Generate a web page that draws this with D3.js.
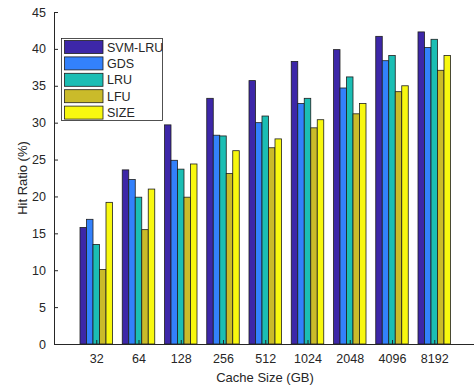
<!DOCTYPE html>
<html><head><meta charset="utf-8">
<script src="https://cdn.jsdelivr.net/npm/d3@7"></script>
<style>body{margin:0;background:#fff}svg{display:block}text{font-family:"Liberation Sans",Arial,sans-serif;fill:#262626}</style>
</head><body><svg id="c" width="474" height="390"></svg>
<script>
const categories = ["32","64","128","256","512","1024","2048","4096","8192"];
const seriesNames = ["SVM-LRU","GDS","LRU","LFU","SIZE"];
const svmLru = [15.8,23.6,29.7,33.3,35.7,38.3,39.9,41.7,42.3];
const gds    = [16.9,22.3,24.9,28.3,30.0,32.6,34.7,38.4,40.2];
const lru    = [13.5,19.9,23.7,28.2,30.9,33.3,36.2,39.1,41.3];
const lfu    = [10.1,15.5,19.9,23.1,26.6,29.3,31.2,34.2,37.1];
const size   = [19.2,21.0,24.4,26.2,27.8,30.4,32.6,35.0,39.1];
const yTicks = [0,5,10,15,20,25,30,35,40,45];
const colors = ["#3D27A8","#3381FC","#1BBEB4","#CABB2A","#F8F80F"];
const series = [svmLru,gds,lru,lfu,size];

const svg = d3.select("#c");
const x = d3.scaleLinear().domain([0,10]).range([54,476.5]);
const y = d3.scaleLinear().domain([0,45]).range([344,12]);
const groupW = 5/(5+1.5);
const barW = groupW/5;

const g = svg.append("g");
series.forEach((vals,si)=>{
  g.selectAll(null).data(vals).enter().append("rect")
    .attr("x",(d,i)=>x(i+1-groupW/2+si*barW))
    .attr("width",x(barW)-x(0))
    .attr("y",d=>y(d))
    .attr("height",d=>y(0)-y(d))
    .attr("fill",colors[si])
    .attr("stroke","#1e1e1e").attr("stroke-width",0.8);
});

// axes
const yAxis = d3.axisLeft(y).tickValues(yTicks).tickSizeInner(-4).tickSizeOuter(0).tickPadding(8);
const ya = svg.append("g").attr("transform","translate(54,0)").call(yAxis);
const xAxis = d3.axisBottom(x).tickValues(d3.range(1,10)).tickFormat((d)=>categories[d-1]).tickSizeInner(-4).tickSizeOuter(0).tickPadding(8);
const xa = svg.append("g").attr("transform","translate(0,344)").call(xAxis);
[ya,xa].forEach(a=>{
  a.selectAll("path,line").attr("stroke","#262626");
  a.selectAll("text").style("font-size","12.5px").attr("fill","#262626");
});
xa.selectAll(".tick text").attr("dy","0.9em");

svg.append("text").attr("transform","translate(27,178) rotate(-90)")
  .attr("text-anchor","middle").style("font-size","13px").text("Hit Ratio (%)");
svg.append("text").attr("x",265).attr("y",382)
  .attr("text-anchor","middle").style("font-size","13px").text("Cache Size (GB)");

// legend
const lg = svg.append("g");
lg.append("rect").attr("x",61.5).attr("y",38.5).attr("width",101).attr("height",82)
  .attr("fill","#fff").attr("stroke","#262626").attr("stroke-width",0.8);
seriesNames.forEach((n,i)=>{
  const cy = 47+i*16.4;
  lg.append("rect").attr("x",64.5).attr("y",cy-6.5).attr("width",38.5).attr("height",13)
    .attr("fill",colors[i]).attr("stroke","#1e1e1e").attr("stroke-width",0.8);
  lg.append("text").attr("x",107).attr("y",cy).attr("dy","0.36em").style("font-size","12.5px").text(n);
});
</script></body></html>
